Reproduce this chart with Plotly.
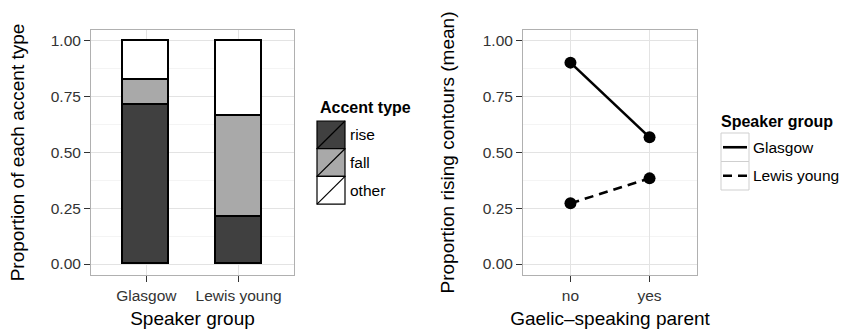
import plotly.graph_objects as go

# ---------------- data ----------------
speaker_groups = ["Glasgow", "Lewis young"]
accent_types = ["rise", "fall", "other"]
prop_rise = [0.713, 0.209]
prop_fall = [0.112, 0.455]
prop_other = [0.175, 0.336]

parent_levels = ["no", "yes"]
glasgow_mean = [0.903, 0.568]
lewis_mean = [0.272, 0.384]

y_ticks = [0.0, 0.25, 0.5, 0.75, 1.0]
y_ticktext = ["0.00", "0.25", "0.50", "0.75", "1.00"]

# ---------------- styles ----------------
W, H = 843, 332
FONT = "Liberation Sans, Arial, Helvetica, sans-serif"
fill_colors = {"rise": "#404040", "fall": "#a9a9a9", "other": "#ffffff"}
line_dash = {"Glasgow": "solid", "Lewis young": "9px,6px"}


def px(x):
    return x / W


def py(y):
    return 1 - y / H


fig = go.Figure()

values = {"rise": prop_rise, "fall": prop_fall, "other": prop_other}
for a in accent_types:
    fig.add_trace(go.Bar(
        x=speaker_groups, y=values[a], name=a, width=0.5,
        marker=dict(color=fill_colors[a], line=dict(color="black", width=1.6)),
        xaxis="x", yaxis="y", showlegend=False,
    ))

series = {"Glasgow": glasgow_mean, "Lewis young": lewis_mean}
for g in speaker_groups:
    fig.add_trace(go.Scatter(
        x=parent_levels, y=series[g], name=g, mode="lines+markers",
        line=dict(color="black", width=2.6, dash=line_dash[g]),
        marker=dict(color="black", size=12),
        xaxis="x2", yaxis="y2", showlegend=False,
    ))

yr = [-0.0493, 1.0493]
common_y = dict(
    range=yr, tickvals=y_ticks, ticktext=y_ticktext, automargin=False,
    showgrid=True, gridcolor="#e3e3e3", gridwidth=1,
    minor=dict(showgrid=True, gridcolor="#f4f4f4", dtick=0.125, tick0=0),
    zeroline=False, showline=True, mirror=True, linecolor="#b0b0b0", linewidth=1,
    ticks="outside", ticklen=6, tickcolor="#333333", tickwidth=1,
    tickfont=dict(size=15.5, color="#333333", family=FONT),
    title_font=dict(size=19, color="black", family=FONT),
)
common_x = dict(
    type="category", range=[-0.6, 1.6], automargin=False,
    showgrid=True, gridcolor="#e3e3e3", gridwidth=1,
    zeroline=False, showline=True, mirror=True, linecolor="#b0b0b0", linewidth=1,
    ticks="outside", ticklen=6, tickcolor="#333333", tickwidth=1,
    tickfont=dict(size=15.5, color="#333333", family=FONT),
    title_font=dict(size=19, color="black", family=FONT),
)

fig.update_layout(
    width=W, height=H,
    margin=dict(l=0, r=0, t=0, b=0, autoexpand=False),
    paper_bgcolor="white", plot_bgcolor="white",
    barmode="stack", bargap=0,
    font=dict(family=FONT, color="black"),
    showlegend=False,
    xaxis=dict(common_x, domain=[px(91), px(294)], anchor="y",
               title=dict(text="Speaker group", standoff=9)),
    yaxis=dict(common_y, domain=[py(275), py(30)], anchor="x",
               title=dict(text="Proportion of each accent type", standoff=21)),
    xaxis2=dict(common_x, domain=[px(523), px(697)], anchor="y2",
                title=dict(text="Gaelic\u2013speaking parent", standoff=9)),
    yaxis2=dict(common_y, domain=[py(275), py(30)], anchor="x2",
                title=dict(text="Proportion rising contours (mean)", standoff=23)),
)

shapes = []
annotations = []

# legend 1: Accent type
annotations.append(dict(text="<b>Accent type</b>", x=px(318), y=py(107), xref="paper", yref="paper",
                        xanchor="left", yanchor="middle", showarrow=False,
                        font=dict(size=16, color="black", family=FONT)))
top, rh = 121, 27.7
for i, a in enumerate(accent_types):
    y0, y1 = top + i * rh, top + (i + 1) * rh
    shapes.append(dict(type="rect", xref="paper", yref="paper", x0=px(317), x1=px(345),
                       y0=py(y1), y1=py(y0), fillcolor=fill_colors[a],
                       line=dict(color="black", width=1.2)))
    shapes.append(dict(type="line", xref="paper", yref="paper", x0=px(317), x1=px(345),
                       y0=py(y1), y1=py(y0), line=dict(color="black", width=1.2)))
    annotations.append(dict(text=a, x=px(348), y=py((y0 + y1) / 2), xref="paper", yref="paper",
                            xanchor="left", yanchor="middle", showarrow=False,
                            font=dict(size=15.5, color="black", family=FONT)))

# legend 2: Speaker group
annotations.append(dict(text="<b>Speaker group</b>", x=px(719), y=py(121), xref="paper", yref="paper",
                        xanchor="left", yanchor="middle", showarrow=False,
                        font=dict(size=16, color="black", family=FONT)))
top2, rh2 = 133, 28.5
for i, g in enumerate(speaker_groups):
    y0, y1 = top2 + i * rh2, top2 + (i + 1) * rh2
    ym = (y0 + y1) / 2
    shapes.append(dict(type="rect", xref="paper", yref="paper", x0=px(721), x1=px(749),
                       y0=py(y1), y1=py(y0), fillcolor="white",
                       line=dict(color="#cfcfcf", width=1)))
    shapes.append(dict(type="line", xref="paper", yref="paper", x0=px(723), x1=px(747),
                       y0=py(ym), y1=py(ym),
                       line=dict(color="black", width=2.6, dash=line_dash[g])))
    annotations.append(dict(text=g, x=px(751), y=py(ym), xref="paper", yref="paper",
                            xanchor="left", yanchor="middle", showarrow=False,
                            font=dict(size=15.5, color="black", family=FONT)))

fig.update_layout(shapes=shapes, annotations=annotations)
fig.write_html("out.html", config={"displayModeBar": False},
               post_script="document.body.style.margin='0';")
